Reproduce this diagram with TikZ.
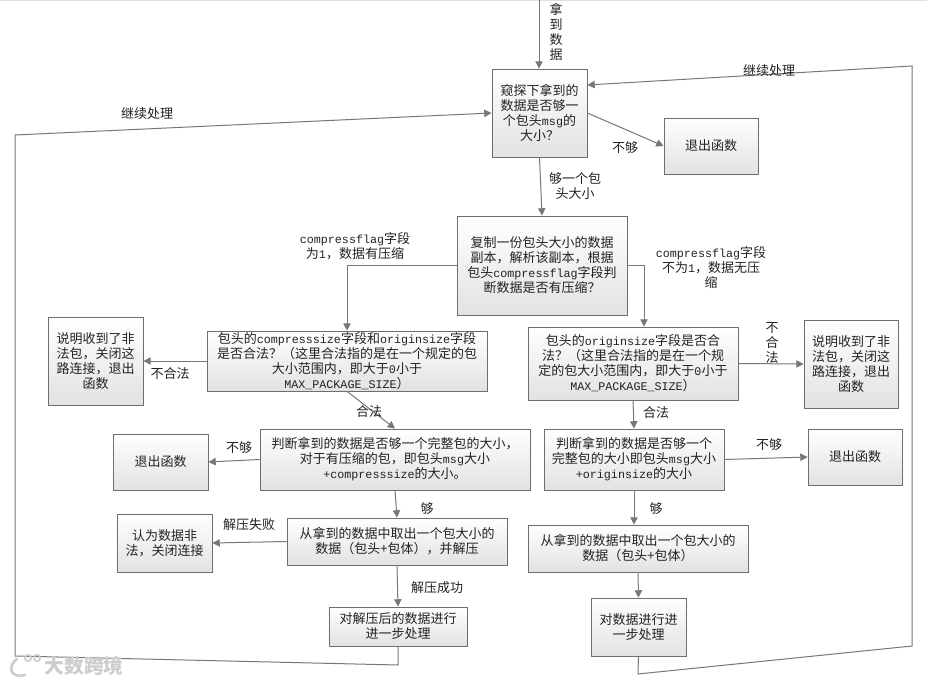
\documentclass[tikz,border=0pt]{standalone}
\usepackage{fontspec}
\setmainfont{Noto Sans CJK SC}
\newfontfamily\latfont[Scale=0.9]{Liberation Mono}
\newcommand{\lat}[1]{{\latfont #1}}
\usetikzlibrary{arrows.meta,shadows,calc}
\definecolor{edgegray}{HTML}{6E6E6E}
\definecolor{linegray}{HTML}{777777}
\definecolor{boxbottom}{HTML}{E2E2E2}
\definecolor{txt}{HTML}{222222}
\definecolor{wm}{HTML}{CDCDCD}
\tikzset{
  x=0.75pt,y=-0.75pt,
  size/.style 2 args={minimum width=#1*0.75pt,minimum height=#2*0.75pt},
  bx/.style={draw=edgegray,line width=0.6pt,top color=white,bottom color=boxbottom,
    inner sep=0pt,align=center,text=txt,font=\fontsize{9.75}{11.25}\selectfont,
    drop shadow={shadow xshift=0.8pt,shadow yshift=-0.8pt,opacity=0.25,fill=black}},
  lbl/.style={inner sep=0pt,align=center,text=txt,yshift=-0.9pt,font=\fontsize{9.75}{11.25}\selectfont},
  conn/.style={draw=linegray,line width=0.75pt,-{Triangle[length=5.5pt,width=5.5pt,fill=linegray]}},
}
\begin{document}
\begin{tikzpicture}
\useasboundingbox (0,0) rectangle (927,684);
\fill[white] (0,0) rectangle (927,684);
\draw[gray!25,line width=0.75pt] (0,0.5) -- (927,0.5);

% boxes
\node[bx,size={95}{88}] (top) at (539.5,113) {窥探下拿到的\\数据是否够一\\个包头\lat{msg}的\\大小？};
\node[bx,size={94}{56}] (exitA) at (711,146) {退出函数};
\node[bx,size={170}{99}] (copy) at (542,265.5) {复制一份包头大小的数据\\副本，解析该副本，根据\\包头\lat{compressflag}字段判\\断数据是否有压缩？};
\node[bx,size={280}{60}] (lcheck) at (347,361) {包头的\lat{compresssize}字段和\lat{originsize}字段\\是否合法？（这里合法指的是在一个规定的包\\大小范围内，即大于\lat{0}小于\\\lat{MAX\_PACKAGE\_SIZE}）};
\node[bx,size={95}{88}] (lill) at (95.5,361) {说明收到了非\\法包，关闭这\\路连接，退出\\函数};
\node[bx,size={270}{61}] (ljudge) at (395,459.5) {判断拿到的数据是否够一个完整包的大小，\\对于有压缩的包，即包头\lat{msg}大小\\\lat{+compresssize}的大小。};
\node[bx,size={95}{56}] (lexit) at (160.5,462) {退出函数};
\node[bx,size={220}{47}] (ltake) at (397,541.5) {从拿到的数据中取出一个包大小的\\数据（包头+包体），并解压};
\node[bx,size={95}{58}] (lbad) at (164.5,543) {认为数据非\\法，关闭连接};
\node[bx,size={138}{39}] (lproc) at (398,626.5) {对解压后的数据进行\\进一步处理};
\node[bx,size={210}{73}] (rcheck) at (633,363.5) {包头的\lat{originsize}字段是否合\\法？（这里合法指的是在一个规\\定的包大小范围内，即大于\lat{0}小于\\\lat{MAX\_PACKAGE\_SIZE}）};
\node[bx,size={94}{88}] (rill) at (851,364) {说明收到了非\\法包，关闭这\\路连接，退出\\函数};
\node[bx,size={180}{61}] (rjudge) at (634,459.5) {判断拿到的数据是否够一个\\完整包的大小即包头\lat{msg}大小\\\lat{+originsize}的大小};
\node[bx,size={94}{56}] (rexit) at (855,457) {退出函数};
\node[bx,size={220}{47}] (rtake) at (638,548.5) {从拿到的数据中取出一个包大小的\\数据（包头+包体）};
\node[bx,size={95}{58}] (rproc) at (638.5,627) {对数据进行进\\一步处理};

% free ends
\coordinate (start) at (539,0);
\coordinate (la) at (398,665);
\coordinate (lb) at (15,656);
\coordinate (lc) at (15,135);
\coordinate (ra) at (638,674);
\coordinate (rb) at (912,646);
\coordinate (rc) at (912,66);

% connectors
\draw[conn] (start) -- (start |- top.north);
\draw[conn] (top.east) -- (exitA.west);
\draw[conn] (top.south) -- (copy.north);
\draw[conn] (copy.west) -| (lcheck.north);
\draw[conn] (copy.east) -| ([xshift=8.25pt]rcheck.north);
\draw[conn] (lcheck.west) -- (lill.east);
\draw[conn] (lcheck.south) -- (ljudge.north);
\draw[conn] (ljudge.west) -- (lexit.east);
\draw[conn] (ljudge.south) -- (ltake.north);
\draw[conn] (ltake.west) -- (lbad.east);
\draw[conn] (ltake.south) -- (lproc.north);
\draw[conn] (rcheck.east) -- (rill.west);
\draw[conn] (rcheck.south) -- (rjudge.north);
\draw[conn] (rjudge.east) -- (rexit.west);
\draw[conn] (rjudge.south) -- (rjudge.south |- rtake.north);
\draw[conn] (rtake.south) -- (rproc.north);
\draw[conn] (lproc.south) -- (la) -- (lb) -- (lc) -- (top.west);
\draw[conn] (rproc.south) -- (ra) -- (rb) -- (rc) -- ([yshift=21pt]top.east);

% labels
\node[lbl] (t1) at (556,31) {拿\\到\\数\\据};
\node[lbl] (t2) at (769,69) {继续处理};
\node[lbl] (t3) at (147,112) {继续处理};
\node[lbl] (t4) at (625,146) {不够};
\node[lbl] (t5) at (575,184.5) {够一个包\\头大小};
\node[lbl] (t6) at (355,245) {\lat{compressflag}字段\\为\lat{1}，数据有压缩};
\node[lbl] (t7) at (711,266) {\lat{compressflag}字段\\不为\lat{1}，数据无压\\缩};
\node[lbl] (t8) at (170,372) {不合法};
\node[lbl] (t9) at (369,410) {合法};
\node[lbl] (t10) at (239,446) {不够};
\node[lbl] (t11) at (427,507) {够};
\node[lbl] (t12) at (249,523) {解压失败};
\node[lbl] (t13) at (437,586) {解压成功};
\node[lbl] (t14) at (772,342) {不\\合\\法};
\node[lbl] (t15) at (656,411) {合法};
\node[lbl] (t16) at (769,443) {不够};
\node[lbl] (t17) at (656,507) {够};

% watermark
\node[inner sep=0pt,text=wm,font=\fontsize{14.8}{16}\selectfont\bfseries] (wmk) at (84,666) {大数跨境};
\draw[wm,line width=2pt,line cap=round] (17,659) .. controls (7,666) and (10,679) .. (25,675);
\draw[wm,line width=1.2pt] (28,658) circle (3.2) (37,658) circle (3.2);
\end{tikzpicture}
\end{document}
